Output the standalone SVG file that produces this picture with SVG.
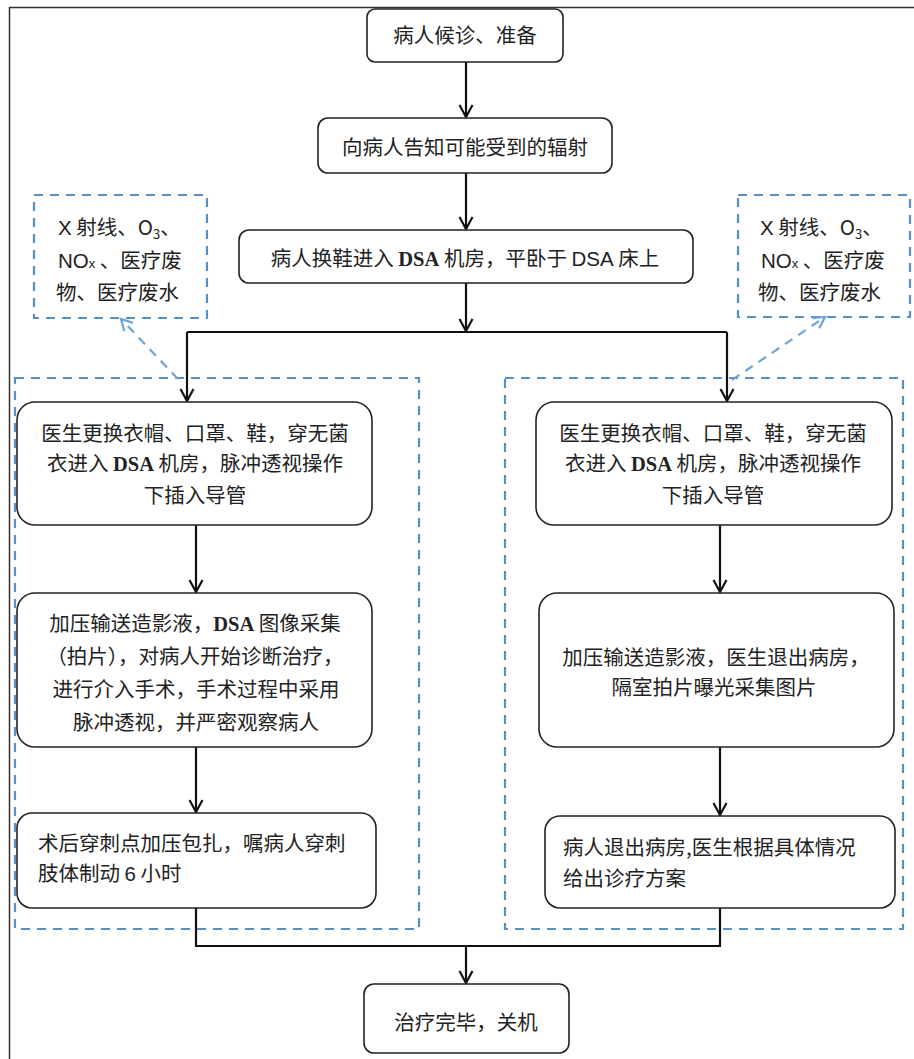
<svg xmlns="http://www.w3.org/2000/svg" width="914" height="1059" viewBox="0 0 914 1059">
<style>
.box{fill:#fff;stroke:#222;stroke-width:1.6}
.t{font-family:"Noto Sans CJK SC","Liberation Sans",sans-serif;font-size:20.5px;fill:#222}
.c{text-anchor:middle}
.serif{font-family:"Liberation Serif","Noto Serif CJK SC",serif;font-weight:bold}
.sans{font-family:"Liberation Sans",sans-serif}
.con{fill:none;stroke:#111;stroke-width:2.2}
.dash{fill:none;stroke:#5a8ec6;stroke-width:2.2;stroke-dasharray:9 7}
.darr{fill:none;stroke:#6fa3d6;stroke-width:2.2;stroke-dasharray:9 7}
.sub{font-size:13px}
</style>
<defs>
<marker id="ah" markerUnits="userSpaceOnUse" viewBox="-14 -9 16 18" refX="0" refY="0" markerWidth="16" markerHeight="18" orient="auto">
<path d="M-12,-6.5 L0,0 L-12,6.5" fill="none" stroke="#111" stroke-width="2.2"/>
</marker>
<marker id="ahb" markerUnits="userSpaceOnUse" viewBox="-14 -9 16 18" refX="0" refY="0" markerWidth="16" markerHeight="18" orient="auto">
<path d="M-11,-6 L0,0 L-11,6" fill="none" stroke="#6fa3d6" stroke-width="2.2"/>
</marker>
</defs>
<rect width="914" height="1059" fill="#fff"/>
<path d="M9.5,1059 V7.5 H914" fill="none" stroke="#333" stroke-width="1.5"/>

<g id="containers">
<rect id="left-group" class="dash" x="15" y="378" width="404" height="551"/>
<rect id="right-group" class="dash" x="505" y="378" width="398" height="551"/>
</g>

<g id="emission-left">
<rect class="dash" x="34" y="195" width="173" height="123"/>
<text class="t" x="58" y="234.5"><tspan class="sans">X</tspan> 射线、O<tspan class="sub" dy="4">3</tspan><tspan dy="-4">、</tspan></text>
<text class="t" x="58" y="267.5"><tspan class="sans">NO</tspan><tspan class="sub sans">x</tspan> 、医疗废</text>
<text class="t" x="56" y="299.5">物、医疗废水</text>
</g>

<g id="emission-right">
<rect class="dash" x="738" y="195" width="172" height="122"/>
<text class="t" x="760" y="234.5"><tspan class="sans">X</tspan> 射线、O<tspan class="sub" dy="4">3</tspan><tspan dy="-4">、</tspan></text>
<text class="t" x="761" y="267.5"><tspan class="sans">NO</tspan><tspan class="sub sans">x</tspan> 、医疗废</text>
<text class="t" x="758" y="299.5">物、医疗废水</text>
</g>

<g id="connectors">
<line class="con" x1="466" y1="62" x2="466" y2="117" marker-end="url(#ah)"/>
<line class="con" x1="466" y1="173" x2="466" y2="229" marker-end="url(#ah)"/>
<line class="con" x1="466" y1="283" x2="466" y2="331" marker-end="url(#ah)"/>
<path class="con" d="M187,332 H727"/>
<line class="con" x1="187" y1="332" x2="187" y2="401" marker-end="url(#ah)"/>
<line class="con" x1="727" y1="332" x2="727" y2="401" marker-end="url(#ah)"/>
<line class="con" x1="196" y1="525" x2="196" y2="592" marker-end="url(#ah)"/>
<line class="con" x1="720" y1="525" x2="720" y2="592" marker-end="url(#ah)"/>
<line class="con" x1="196" y1="747" x2="196" y2="812" marker-end="url(#ah)"/>
<line class="con" x1="720" y1="747" x2="720" y2="815" marker-end="url(#ah)"/>
<path class="con" d="M196,908 V946 H720 V908"/>
<line class="con" x1="466" y1="946" x2="466" y2="983" marker-end="url(#ah)"/>
<line class="darr" x1="178" y1="379" x2="121" y2="319" marker-end="url(#ahb)"/>
<line class="darr" x1="732" y1="380" x2="825" y2="317" marker-end="url(#ahb)"/>
</g>

<g id="n1">
<rect class="box" x="367" y="9" width="196" height="53" rx="8"/>
<text class="t c" x="465" y="42.5">病人候诊、准备</text>
</g>
<g id="n2">
<rect class="box" x="318" y="118" width="294" height="55" rx="10"/>
<text class="t c" x="465" y="154.5">向病人告知可能受到的辐射</text>
</g>
<g id="n3">
<rect class="box" x="239" y="230" width="454" height="53" rx="10"/>
<text class="t c" x="465" y="265.5">病人换鞋进入 <tspan class="serif">DSA</tspan> 机房，平卧于 <tspan class="sans">DSA</tspan> 床上</text>
</g>

<g id="l1">
<rect class="box" x="17" y="402" width="355" height="123" rx="18"/>
<text class="t c" x="195" y="440.5">医生更换衣帽、口罩、鞋，穿无菌</text>
<text class="t c" x="195" y="470.5">衣进入 <tspan class="serif">DSA</tspan> 机房，脉冲透视操作</text>
<text class="t c" x="195" y="502.5">下插入导管</text>
</g>
<g id="l2">
<rect class="box" x="17" y="593" width="355" height="154" rx="18"/>
<text class="t c" x="195" y="630.5">加压输送造影液，<tspan class="serif">DSA</tspan> 图像采集</text>
<text class="t c" x="195" y="663.5">（拍片），对病人开始诊断治疗，</text>
<text class="t c" x="196" y="696.5">进行介入手术，手术过程中采用</text>
<text class="t c" x="196" y="729.5">脉冲透视，并严密观察病人</text>
</g>
<g id="l3">
<rect class="box" x="17" y="813" width="359" height="95" rx="15"/>
<text class="t" x="38" y="850.5">术后穿刺点加压包扎，嘱病人穿刺</text>
<text class="t" x="38" y="880.5">肢体制动 <tspan class="sans">6</tspan> 小时</text>
</g>

<g id="r1">
<rect class="box" x="536" y="402" width="356" height="123" rx="18"/>
<text class="t c" x="713" y="440.5">医生更换衣帽、口罩、鞋，穿无菌</text>
<text class="t c" x="713" y="470.5">衣进入 <tspan class="serif">DSA</tspan> 机房，脉冲透视操作</text>
<text class="t c" x="713" y="502.5">下插入导管</text>
</g>
<g id="r2">
<rect class="box" x="539" y="593" width="355" height="154" rx="18"/>
<text class="t c" x="716" y="664.5">加压输送造影液，医生退出病房，</text>
<text class="t c" x="714" y="694.5">隔室拍片曝光采集图片</text>
</g>
<g id="r3">
<rect class="box" x="545" y="816" width="350" height="92" rx="15"/>
<text class="t" x="563" y="854.5">病人退出病房,医生根据具体情况</text>
<text class="t" x="563" y="885.5">给出诊疗方案</text>
</g>

<g id="end">
<rect class="box" x="364" y="984" width="205" height="69" rx="10"/>
<text class="t c" x="466" y="1029.5">治疗完毕，关机</text>
</g>
</svg>
